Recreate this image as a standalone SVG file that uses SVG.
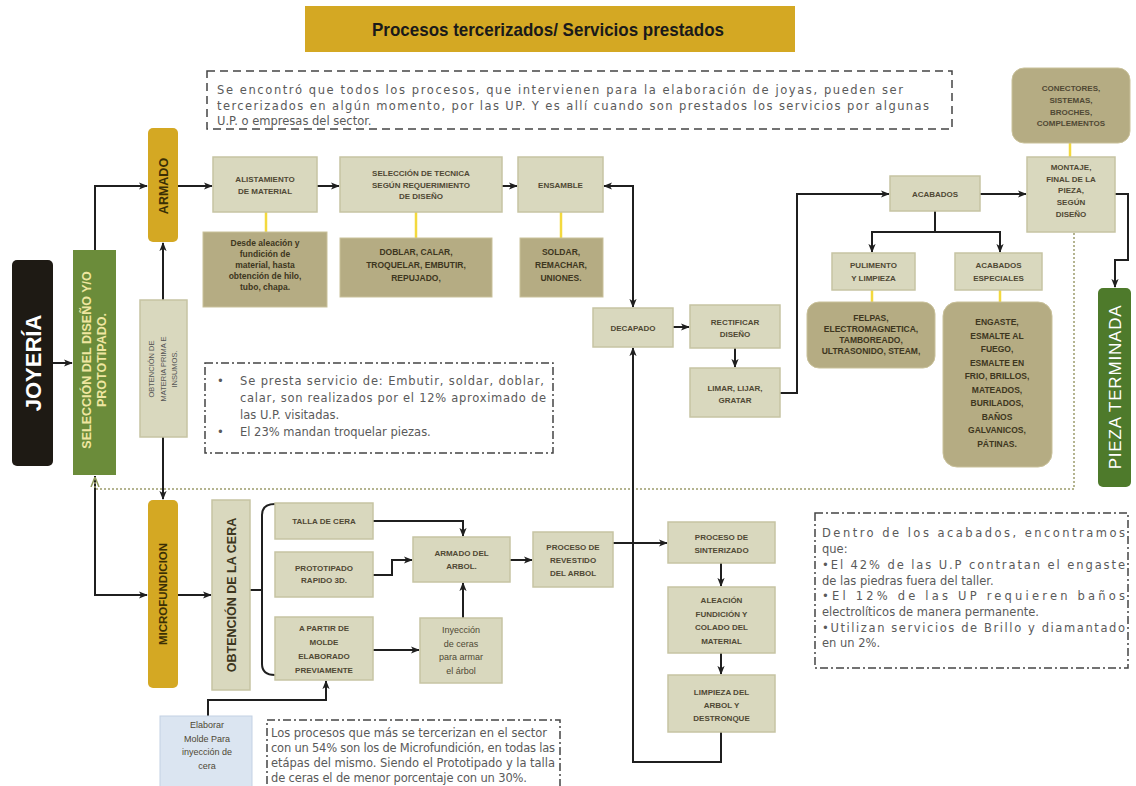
<svg xmlns="http://www.w3.org/2000/svg" width="1136" height="786" viewBox="0 0 1136 786">
<defs>
<marker id="ar" viewBox="0 0 10 10" refX="9" refY="5" markerWidth="9" markerHeight="9" markerUnits="userSpaceOnUse" orient="auto-start-reverse"><path d="M0,1 L10,5 L0,9 L2.5,5z" fill="#1f1f1f"/></marker>
<marker id="ag" viewBox="0 0 10 10" refX="9" refY="5" markerWidth="10" markerHeight="10" markerUnits="userSpaceOnUse" orient="auto"><path d="M0,1 L10,5 L0,9" fill="none" stroke="#8f9a5a" stroke-width="1.5"/></marker>
<style>
.bx{fill:#d9d8be;stroke:#c6c4a3;stroke-width:1.5}
.sb{fill:#b5ac83;stroke:#c9c19a;stroke-width:1}
.gold{fill:#d4a823}
.t{font-family:"Liberation Sans",Arial,sans-serif;font-weight:bold;font-size:8px;fill:#4f4834;text-anchor:middle}
.ts{font-family:"Liberation Sans",Arial,sans-serif;font-weight:bold;font-size:8.5px;fill:#3d3620;text-anchor:middle}
.tn{font-family:"Liberation Sans",Arial,sans-serif;font-size:9px;fill:#4f4834;text-anchor:middle}
.ln{fill:none;stroke:#1f1f1f;stroke-width:2}
.yl{stroke:#f3d93e;stroke-width:2.5}
.note{font-family:"DejaVu Sans",Verdana,sans-serif;font-size:11.5px;fill:#5a5a5a}
.dd{fill:none;stroke:#444;stroke-width:1.5;stroke-dasharray:8 3 2 3}
</style>
</defs>
<rect width="1136" height="786" fill="#ffffff"/>

<g id="title">
<rect x="305" y="6" width="490" height="46" fill="#d4a823"/>
<text x="548" y="36" font-family="Liberation Sans,Arial,sans-serif" font-weight="bold" font-size="19" fill="#1a1a1a" text-anchor="middle" textLength="352" lengthAdjust="spacingAndGlyphs">Procesos tercerizados/ Servicios prestados</text>
</g>

<g id="note-top">
<rect x="207" y="71" width="745" height="58" fill="none" stroke="#444" stroke-width="1.5" stroke-dasharray="8 5"/>
<g class="note" font-size="12">
<text x="217" y="94" textLength="686" lengthAdjust="spacing">Se encontró que todos los procesos, que intervienen para la elaboración de joyas, pueden ser</text>
<text x="217" y="110" textLength="712" lengthAdjust="spacing">tercerizados en algún momento, por las UP. Y es allí cuando son prestados los servicios  por algunas</text>
<text x="217" y="125">U.P. o empresas del sector.</text>
</g>
</g>

<g id="connectors">
<path class="ln" d="M53,363 L72,363" marker-end="url(#ar)"/>
<path class="ln" d="M95,250 L95,186 L147,186" marker-end="url(#ar)"/>
<path class="ln" d="M163,300 L163,243" marker-end="url(#ar)"/>
<path class="ln" d="M163,437 L163,499" marker-end="url(#ar)"/>
<path class="ln" d="M95,476 L95,595 L147,595" marker-end="url(#ar)"/>
<path fill="none" stroke="#9c9c6c" stroke-width="1.5" stroke-dasharray="2 2" d="M1074,233 L1074,489 L95,489 L95,478" marker-end="url(#ag)"/>
<path class="ln" d="M178,186 L212,186" marker-end="url(#ar)"/>
<path class="ln" d="M317,186 L339,186" marker-end="url(#ar)"/>
<path class="ln" d="M502,186 L517,186" marker-end="url(#ar)"/>
<path class="ln" d="M604,186 L633,186 L633,307" marker-start="url(#ar)" marker-end="url(#ar)"/>
<path class="ln" d="M721,732 L721,762 L633,762 L633,348" marker-end="url(#ar)"/>
<path class="ln" d="M673,327 L689,327" marker-end="url(#ar)"/>
<path class="ln" d="M735,348 L735,367" marker-end="url(#ar)"/>
<path class="ln" d="M780,393 L797,393 L797,194 L889,194" marker-end="url(#ar)"/>
<path class="ln" d="M980,194 L1026,194" marker-end="url(#ar)"/>
<path class="ln" d="M935,211 L935,232"/>
<path class="ln" d="M935,232 L872,232 L872,252" marker-end="url(#ar)"/>
<path class="ln" d="M935,232 L1000,232 L1000,252" marker-end="url(#ar)"/>
<path class="ln" d="M1115,194 L1128,194 L1128,260 L1115,260 L1115,287" marker-end="url(#ar)"/>
<path class="ln" d="M178,595 L211,595" marker-end="url(#ar)"/>
<path class="ln" d="M250,590 L262,590 M275,504 Q262,504 262,515 L262,664 Q262,675 275,675"/>
<path class="ln" d="M373,521 L463,521 L463,536" marker-end="url(#ar)"/>
<path class="ln" d="M373,575 L392,575 L392,560 L412,560" marker-end="url(#ar)"/>
<path class="ln" d="M373,650 L419,650" marker-end="url(#ar)"/>
<path class="ln" d="M463,618 L463,583" marker-end="url(#ar)"/>
<path class="ln" d="M510,560 L532,560" marker-end="url(#ar)"/>
<path class="ln" d="M613,543 L667,543" marker-end="url(#ar)"/>
<path class="ln" d="M721,563 L721,586" marker-end="url(#ar)"/>
<path class="ln" d="M721,653 L721,674" marker-end="url(#ar)"/>
<path class="ln" d="M208,716 L208,700 L326,700 L326,681" marker-end="url(#ar)"/>
<line class="yl" x1="266" y1="212" x2="266" y2="232"/>
<line class="yl" x1="416" y1="212" x2="416" y2="238"/>
<line class="yl" x1="561" y1="212" x2="561" y2="238"/>
<line class="yl" x1="1070" y1="143" x2="1070" y2="157"/>
<line class="yl" x1="872" y1="290" x2="872" y2="302"/>
<line class="yl" x1="1000" y1="290" x2="1000" y2="302"/>
</g>

<g id="joyeria">
<rect x="12" y="260" width="41" height="206" rx="5" fill="#1e1a14"/>
<text transform="translate(33,363) rotate(-90)" y="8" font-family="Liberation Sans,Arial,sans-serif" font-weight="bold" font-size="22" fill="#ffffff" text-anchor="middle">JOYERÍA</text>
</g>

<g id="seleccion">
<rect x="73" y="250" width="43" height="225" fill="#6b8c3a"/>
<g transform="translate(95,360) rotate(-90)" font-family="Liberation Sans,Arial,sans-serif" font-weight="bold" font-size="12.5" fill="#efe6a0" text-anchor="middle">
<text y="-4">SELECCIÓN DEL DISEÑO Y/O</text>
<text y="11">PROTOTIPADO.</text>
</g>
</g>

<g id="armado">
<rect x="148" y="128" width="30" height="114" rx="5" class="gold"/>
<text transform="translate(163,186) rotate(-90)" y="4.5" font-family="Liberation Sans,Arial,sans-serif" font-weight="bold" font-size="12.5" fill="#3a2f05" text-anchor="middle">ARMADO</text>
</g>

<g id="materia-prima">
<rect x="140" y="300" width="47" height="137" class="bx"/>
<g transform="translate(163,369) rotate(-90)" font-family="Liberation Sans,Arial,sans-serif" font-size="7.5" fill="#555" text-anchor="middle">
<text y="-9">OBTENCIÓN DE</text>
<text y="2.5">MATERIA PRIMA E</text>
<text y="14">INSUMOS.</text>
</g>
</g>

<g id="microfundicion">
<rect x="148" y="500" width="30" height="188" rx="5" class="gold"/>
<text transform="translate(163,594) rotate(-90)" y="4" font-family="Liberation Sans,Arial,sans-serif" font-weight="bold" font-size="11.5" fill="#3a2f05" text-anchor="middle">MICROFUNDICION</text>
</g>

<g id="alistamiento">
<rect x="213" y="157" width="104" height="55" class="bx"/>
<text class="t" x="265" y="181.5">ALISTAMIENTO</text>
<text class="t" x="265" y="193.5">DE MATERIAL</text>
</g>
<g id="alistamiento-sub">
<rect x="203" y="232" width="124" height="75" class="sb"/>
<text class="ts" x="265" y="245.5">Desde aleación y</text>
<text class="ts" x="265" y="256.5">fundición de</text>
<text class="ts" x="265" y="267.5">material, hasta</text>
<text class="ts" x="265" y="278.5">obtención de hilo,</text>
<text class="ts" x="265" y="289.5">tubo, chapa.</text>
</g>

<g id="seleccion-tecnica">
<rect x="340" y="157" width="162" height="55" class="bx"/>
<text class="t" x="421" y="176">SELECCIÓN DE TECNICA</text>
<text class="t" x="421" y="187.5">SEGÚN REQUERIMIENTO</text>
<text class="t" x="421" y="199">DE DISEÑO</text>
</g>
<g id="tecnica-sub">
<rect x="340" y="238" width="152" height="59" class="sb"/>
<text class="ts" x="416" y="255">DOBLAR,  CALAR,</text>
<text class="ts" x="416" y="268">TROQUELAR, EMBUTIR,</text>
<text class="ts" x="416" y="281">REPUJADO,</text>
</g>

<g id="ensamble">
<rect x="518" y="157" width="85" height="55" class="bx"/>
<text class="t" x="560.5" y="187.5">ENSAMBLE</text>
</g>
<g id="ensamble-sub">
<rect x="520" y="238" width="83" height="59" class="sb"/>
<text class="ts" x="561" y="255">SOLDAR,</text>
<text class="ts" x="561" y="268">REMACHAR,</text>
<text class="ts" x="561" y="281">UNIONES.</text>
</g>

<g id="decapado">
<rect x="593" y="308" width="80" height="39" class="bx"/>
<text class="t" x="633" y="330.5">DECAPADO</text>
</g>
<g id="rectificar">
<rect x="690" y="305" width="90" height="43" class="bx"/>
<text class="t" x="735" y="325">RECTIFICAR</text>
<text class="t" x="735" y="337">DISEÑO</text>
</g>
<g id="limar">
<rect x="690" y="368" width="90" height="49" class="bx"/>
<text class="t" x="735" y="391">LIMAR, LIJAR,</text>
<text class="t" x="735" y="403">GRATAR</text>
</g>

<g id="acabados">
<rect x="890" y="176" width="90" height="35" class="bx"/>
<text class="t" x="935" y="196.5">ACABADOS</text>
</g>
<g id="conectores">
<rect x="1012" y="68" width="118" height="75" rx="12" class="sb"/>
<text class="t" x="1071" y="91" font-size="7.5">CONECTORES,</text>
<text class="t" x="1071" y="103" font-size="7.5">SISTEMAS,</text>
<text class="t" x="1071" y="115" font-size="7.5">BROCHES,</text>
<text class="t" x="1071" y="126" font-size="7.5">COMPLEMENTOS</text>
</g>
<g id="montaje">
<rect x="1027" y="157" width="88" height="75" class="bx"/>
<text class="t" x="1071" y="170">MONTAJE,</text>
<text class="t" x="1071" y="181.5">FINAL DE LA</text>
<text class="t" x="1071" y="193">PIEZA,</text>
<text class="t" x="1071" y="205">SEGÚN</text>
<text class="t" x="1071" y="217">DISEÑO</text>
</g>
<g id="pulimento">
<rect x="832" y="253" width="83" height="37" class="bx"/>
<text class="t" x="873.5" y="268">PULIMENTO</text>
<text class="t" x="873.5" y="281">Y LIMPIEZA</text>
</g>
<g id="acabados-especiales">
<rect x="955" y="253" width="87" height="37" class="bx"/>
<text class="t" x="998.5" y="268">ACABADOS</text>
<text class="t" x="998.5" y="281">ESPECIALES</text>
</g>
<g id="felpas">
<rect x="807" y="302" width="128" height="66" rx="12" class="sb"/>
<text class="ts" x="871" y="321" font-size="7">FELPAS,</text>
<text class="ts" x="871" y="332" font-size="7">ELECTROMAGNETICA,</text>
<text class="ts" x="871" y="343" font-size="7">TAMBOREADO,</text>
<text class="ts" x="871" y="354" font-size="7">ULTRASONIDO, STEAM,</text>
</g>
<g id="engaste">
<rect x="943" y="302" width="109" height="165" rx="14" class="sb"/>
<text class="ts" x="997" y="325">ENGASTE,</text>
<text class="ts" x="997" y="338.5">ESMALTE AL</text>
<text class="ts" x="997" y="352">FUEGO,</text>
<text class="ts" x="997" y="365.5">ESMALTE EN</text>
<text class="ts" x="997" y="379">FRIO, BRILLOS,</text>
<text class="ts" x="997" y="392.5">MATEADOS,</text>
<text class="ts" x="997" y="406">BURILADOS,</text>
<text class="ts" x="997" y="419.5">BAÑOS</text>
<text class="ts" x="997" y="433">GALVANICOS,</text>
<text class="ts" x="997" y="446.5">PÁTINAS.</text>
</g>
<g id="pieza-terminada">
<rect x="1098" y="288" width="33" height="199" rx="5" fill="#4e7a2b"/>
<text transform="translate(1114.5,387) rotate(-90)" y="6" font-family="Liberation Sans,Arial,sans-serif" font-size="17" fill="#ffffff" text-anchor="middle" letter-spacing="0.8">PIEZA TERMINADA</text>
</g>

<g id="note-armado">
<rect x="205" y="363" width="348" height="90" class="dd"/>
<g class="note" font-size="12">
<text x="217" y="385">•</text>
<text x="240" y="385" textLength="304" lengthAdjust="spacing">Se presta servicio de:  Embutir, soldar, doblar,</text>
<text x="240" y="402" textLength="306" lengthAdjust="spacing">calar, son realizados por el 12% aproximado de</text>
<text x="240" y="419">las U.P. visitadas.</text>
<text x="217" y="436">•</text>
<text x="240" y="436">El 23% mandan troquelar piezas.</text>
</g>
</g>

<g id="obtencion-cera">
<rect x="212" y="500" width="38" height="190" class="bx"/>
<text transform="translate(231,595) rotate(-90)" y="4.5" font-family="Liberation Sans,Arial,sans-serif" font-weight="bold" font-size="12.5" fill="#3d3620" text-anchor="middle">OBTENCIÓN DE LA CERA</text>
</g>
<g id="talla">
<rect x="275" y="503" width="98" height="36" class="bx"/>
<text class="t" x="324" y="524">TALLA DE CERA</text>
</g>
<g id="prototipado">
<rect x="275" y="552" width="98" height="45" class="bx"/>
<text class="t" x="324" y="571">PROTOTIPADO</text>
<text class="t" x="324" y="583">RAPIDO 3D.</text>
</g>
<g id="a-partir">
<rect x="275" y="617" width="98" height="63" class="bx"/>
<text class="t" x="324" y="631">A PARTIR DE</text>
<text class="t" x="324" y="645">MOLDE</text>
<text class="t" x="324" y="659">ELABORADO</text>
<text class="t" x="324" y="673">PREVIAMENTE</text>
</g>
<g id="armado-arbol">
<rect x="413" y="537" width="97" height="45" class="bx"/>
<text class="t" x="461.5" y="556">ARMADO DEL</text>
<text class="t" x="461.5" y="569">ARBOL.</text>
</g>
<g id="inyeccion">
<rect x="420" y="618" width="82" height="65" class="bx"/>
<text class="tn" x="461" y="633">Inyección</text>
<text class="tn" x="461" y="646.5">de ceras</text>
<text class="tn" x="461" y="660">para armar</text>
<text class="tn" x="461" y="673.5">el árbol</text>
</g>
<g id="revestido">
<rect x="533" y="532" width="80" height="55" class="bx"/>
<text class="t" x="573" y="550">PROCESO DE</text>
<text class="t" x="573" y="563">REVESTIDO</text>
<text class="t" x="573" y="576">DEL ARBOL</text>
</g>
<g id="sinterizado">
<rect x="668" y="522" width="107" height="41" class="bx"/>
<text class="t" x="721.5" y="540">PROCESO DE</text>
<text class="t" x="721.5" y="553">SINTERIZADO</text>
</g>
<g id="aleacion">
<rect x="668" y="587" width="107" height="66" class="bx"/>
<text class="t" x="721.5" y="603">ALEACIÓN</text>
<text class="t" x="721.5" y="616.5">FUNDICIÓN Y</text>
<text class="t" x="721.5" y="630">COLADO DEL</text>
<text class="t" x="721.5" y="643.5">MATERIAL</text>
</g>
<g id="limpieza">
<rect x="668" y="675" width="107" height="57" class="bx"/>
<text class="t" x="721.5" y="695">LIMPIEZA DEL</text>
<text class="t" x="721.5" y="708">ARBOL Y</text>
<text class="t" x="721.5" y="721">DESTRONQUE</text>
</g>
<g id="elaborar-molde">
<rect x="160" y="716" width="92" height="72" fill="#dbe5f1" stroke="#c3d1e4" stroke-width="1"/>
<text class="tn" x="207" y="728" fill="#333">Elaborar</text>
<text class="tn" x="207" y="741.5" fill="#333">Molde Para</text>
<text class="tn" x="207" y="755" fill="#333">inyección de</text>
<text class="tn" x="207" y="768.5" fill="#333">cera</text>
</g>

<g id="note-micro">
<rect x="267" y="720" width="293" height="75" class="dd"/>
<g class="note" font-size="11">
<text x="271" y="737" textLength="276" lengthAdjust="spacing">Los procesos que más se tercerizan en el sector</text>
<text x="271" y="752" textLength="284" lengthAdjust="spacing">con un 54% son los de Microfundición,  en todas las</text>
<text x="271" y="767" textLength="284" lengthAdjust="spacing">etápas del mismo.  Siendo el Prototipado y la talla</text>
<text x="271" y="782" textLength="256" lengthAdjust="spacing">de ceras el de menor porcentaje con un 30%.</text>
</g>
</g>

<g id="note-acabados">
<rect x="815" y="513" width="313" height="155" class="dd"/>
<g class="note" font-size="12">
<text x="822" y="537" textLength="303" lengthAdjust="spacing">Dentro de los acabados, encontramos</text>
<text x="822" y="553">que:</text>
<text x="822" y="569" textLength="303" lengthAdjust="spacing">•El 42% de las U.P contratan el engaste</text>
<text x="822" y="585">de las piedras fuera del taller.</text>
<text x="822" y="600" textLength="303" lengthAdjust="spacing">•El  12%  de  las  UP  requieren  baños</text>
<text x="822" y="616">electrolíticos de manera permanente.</text>
<text x="822" y="632" textLength="303" lengthAdjust="spacing">•Utilizan servicios  de Brillo y diamantado</text>
<text x="822" y="647">en un 2%.</text>
</g>
</g>
</svg>
